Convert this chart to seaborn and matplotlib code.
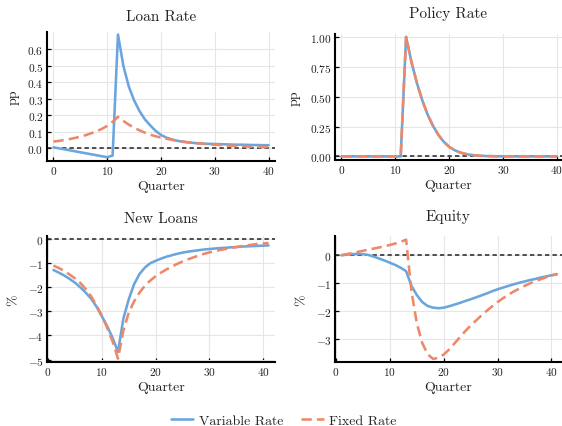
import numpy as np
import pandas as pd
import matplotlib
matplotlib.use("Agg")
import matplotlib.pyplot as plt
import seaborn as sns

# ---- data -------------------------------------------------------------
quarters_top = list(range(0, 41))
quarters_bottom = list(range(1, 42))

loan_rate_variable = [
    0.005, -0.001, -0.007, -0.013, -0.019, -0.025, -0.031, -0.037, -0.043, -0.049,
    -0.055, -0.045, 0.690, 0.500, 0.375, 0.290, 0.225, 0.175, 0.138, 0.105,
    0.080, 0.064, 0.053, 0.045, 0.039, 0.035, 0.032, 0.029, 0.027, 0.026,
    0.025, 0.024, 0.023, 0.022, 0.021, 0.021, 0.020, 0.019, 0.019, 0.018,
    0.018,
]
loan_rate_fixed = [
    0.040, 0.044, 0.049, 0.055, 0.062, 0.070, 0.079, 0.090, 0.102, 0.117,
    0.135, 0.160, 0.190, 0.165, 0.143, 0.124, 0.108, 0.094, 0.082, 0.072,
    0.064, 0.057, 0.051, 0.045, 0.040, 0.036, 0.032, 0.029, 0.026, 0.023,
    0.021, 0.019, 0.017, 0.015, 0.013, 0.012, 0.010, 0.009, 0.008, 0.007,
    0.006,
]
policy_rate = [
    0.0, 0.0, 0.0, 0.0, 0.0, 0.0, 0.0, 0.0, 0.0, 0.0,
    0.0, 0.0, 1.000, 0.790, 0.615, 0.470, 0.350, 0.255, 0.180, 0.122,
    0.080, 0.052, 0.033, 0.021, 0.013, 0.008, 0.005, 0.003, 0.002, 0.001,
    0.001, 0.0, 0.0, 0.0, 0.0, 0.0, 0.0, 0.0, 0.0, 0.0,
    0.0,
]
new_loans_variable = [
    -1.28, -1.39, -1.51, -1.65, -1.81, -2.00, -2.22, -2.47, -2.80, -3.20,
    -3.62, -4.10, -4.68, -3.30, -2.50, -1.87, -1.45, -1.18, -1.00, -0.90,
    -0.81, -0.73, -0.67, -0.61, -0.56, -0.52, -0.49, -0.46, -0.43, -0.41,
    -0.39, -0.37, -0.36, -0.34, -0.33, -0.31, -0.30, -0.29, -0.28, -0.27,
    -0.26,
]
new_loans_fixed = [
    -1.10, -1.20, -1.32, -1.47, -1.63, -1.82, -2.07, -2.37, -2.75, -3.18,
    -3.68, -4.25, -4.96, -3.80, -3.05, -2.58, -2.22, -1.94, -1.72, -1.54,
    -1.39, -1.26, -1.14, -1.03, -0.93, -0.84, -0.76, -0.68, -0.61, -0.55,
    -0.50, -0.45, -0.41, -0.37, -0.33, -0.29, -0.26, -0.23, -0.20, -0.18,
    -0.16,
]
equity_variable = [
    0.00, 0.02, 0.04, 0.05, 0.04, 0.01, -0.05, -0.12, -0.19, -0.27,
    -0.35, -0.45, -0.57, -1.10, -1.43, -1.68, -1.82, -1.88, -1.90, -1.88,
    -1.83, -1.77, -1.71, -1.64, -1.58, -1.51, -1.44, -1.37, -1.29, -1.22,
    -1.16, -1.10, -1.04, -0.99, -0.94, -0.89, -0.85, -0.80, -0.76, -0.72,
    -0.68,
]
equity_fixed = [
    0.00, 0.04, 0.08, 0.12, 0.16, 0.20, 0.24, 0.28, 0.32, 0.37,
    0.42, 0.48, 0.56, -1.30, -2.45, -3.15, -3.55, -3.72, -3.68, -3.56,
    -3.38, -3.16, -2.94, -2.72, -2.52, -2.34, -2.16, -1.99, -1.83, -1.68,
    -1.54, -1.42, -1.30, -1.20, -1.10, -1.01, -0.93, -0.86, -0.79, -0.73,
    -0.67,
]

series_names = ["Variable Rate", "Fixed Rate"]
x_ticks = [0, 10, 20, 30, 40]
loan_rate_ticks = [0.0, 0.1, 0.2, 0.3, 0.4, 0.5, 0.6]
policy_rate_ticks = [0.0, 0.25, 0.5, 0.75, 1.0]
new_loans_ticks = [0, -1, -2, -3, -4, -5]
equity_ticks = [0, -1, -2, -3]

# ---- style ------------------------------------------------------------
sns.set_style("ticks")
plt.rcParams["font.family"] = ["cmr10", "DejaVu Serif"]
plt.rcParams["mathtext.fontset"] = "cm"
plt.rcParams["axes.unicode_minus"] = True
plt.rcParams["axes.formatter.use_mathtext"] = True

BLUE = "#6aa5de"
ORANGE = "#ee8868"
LW = 1.85
DASH = (0, (4.0, 2.0))

fig = plt.figure(figsize=(5.62, 4.27), dpi=100)

W, H = 562.0, 427.0


def make_axes(left, top, right, bottom):
    return fig.add_axes([left / W, 1 - bottom / H, (right - left) / W, (bottom - top) / H])


panels = [
    dict(ax=make_axes(47, 33, 275, 162), x=quarters_top,
         var=loan_rate_variable, fix=loan_rate_fixed, title="Loan Rate",
         ylabel="pp", yticks=loan_rate_ticks, fmt="{:.1f}",
         xlim=(-1.2, 41.2), ylim=(-0.078, 0.705), pad=8.9, ylab_x=-0.149),
    dict(ax=make_axes(335, 35, 562, 161), x=quarters_top,
         var=policy_rate, fix=policy_rate, title="Policy Rate",
         ylabel="pp", yticks=policy_rate_ticks, fmt="{:.2f}",
         xlim=(-1.2, 40.95), ylim=(-0.03, 1.024), pad=12.0, ylab_x=-0.178),
    dict(ax=make_axes(47, 237, 275, 363), x=quarters_bottom,
         var=new_loans_variable, fix=new_loans_fixed, title="New Loans",
         ylabel="%", yticks=new_loans_ticks, fmt="{:d}",
         xlim=(-0.2, 42.2), ylim=(-5.1, 0.13), pad=9.9, ylab_x=-0.149),
    dict(ax=make_axes(335, 237, 562, 363), x=quarters_bottom,
         var=equity_variable, fix=equity_fixed, title="Equity",
         ylabel="%", yticks=equity_ticks, fmt="{:d}",
         xlim=(-0.2, 41.95), ylim=(-3.83, 0.69), pad=11.7, ylab_x=-0.146),
]

for p in panels:
    ax = p["ax"]
    ax.set_axisbelow(True)
    ax.grid(True, color="#e6e6e6", linewidth=0.8)
    ax.axhline(0, color="#333333", linewidth=1.2, linestyle=(0, (2.6, 1.9)), zorder=1)

    sns.lineplot(x=p["x"], y=p["var"], ax=ax, color=BLUE, linewidth=LW,
                 errorbar=None, label=series_names[0], legend=False, zorder=3)
    sns.lineplot(x=p["x"], y=p["fix"], ax=ax, color=ORANGE, linewidth=LW,
                 linestyle=DASH, errorbar=None, label=series_names[1],
                 legend=False, zorder=4)

    ax.set_xlim(*p["xlim"])
    ax.set_ylim(*p["ylim"])
    ax.set_xticks(x_ticks, labels=[f"${t}$" for t in x_ticks])
    ax.set_yticks(p["yticks"], labels=["$" + p["fmt"].format(t) + "$" for t in p["yticks"]])

    for side in ("top", "right"):
        ax.spines[side].set_visible(False)
    for side in ("left", "bottom"):
        ax.spines[side].set_linewidth(1.5)
        ax.spines[side].set_color("black")
    ax.tick_params(axis="both", direction="in", length=3, width=0.9,
                   labelsize=8.2, pad=2.5, colors="black", labelcolor="#222222")

    ax.set_title(p["title"], fontsize=11, pad=p["pad"], color="#222222")
    ax.set_xlabel("Quarter", fontsize=10, color="#222222")
    ax.xaxis.set_label_coords(0.5, -0.15)
    ax.xaxis.label.set_va("top")
    ax.set_ylabel(p["ylabel"], fontsize=10, color="#222222")
    ax.yaxis.set_label_coords(p["ylab_x"], 0.5)
    ax.yaxis.label.set_va("center")

handles, labels = panels[0]["ax"].get_legend_handles_labels()
fig.legend(handles, labels, loc="lower center", bbox_to_anchor=(0.505, -0.032),
           ncol=2, frameon=False, fontsize=10, handlelength=1.6,
           columnspacing=1.3, handletextpad=0.4)

fig.savefig("out.png", dpi=100)
